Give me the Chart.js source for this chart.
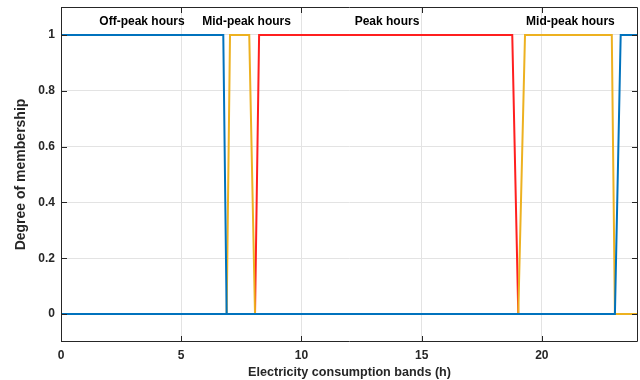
<!DOCTYPE html>
<html>
<head>
<meta charset="utf-8">
<script src="https://cdn.jsdelivr.net/npm/chart.js@4"></script>
<style>
  html, body { margin: 0; padding: 0; background: #fff; }
  #wrap { width: 640px; height: 380px; }
</style>
</head>
<body>
<div id="wrap"><canvas id="chart" width="640" height="380"></canvas></div>
<script>
// membership functions, hours on x
const offPeakHours = [0, 6.75, 6.89, 23.04, 23.28, 24];
const offPeakValues = [1, 1, 0, 0, 1, 1];
const offPeakBaseHours = [0, 23.04];
const offPeakBaseValues = [0, 0];
const midPeakHours = [0, 6.89, 7.03, 7.83, 8.07, 19.02, 19.3, 22.91, 23.04, 24];
const midPeakValues = [0, 0, 1, 1, 0, 0, 1, 1, 0, 0];
const peakHours = [0, 8.07, 8.24, 18.77, 19.02, 24];
const peakValues = [0, 0, 1, 1, 0, 0];

const xTicks = [0, 5, 10, 15, 20];
const yTicks = [0, 0.2, 0.4, 0.6, 0.8, 1];

const bandLabels = ['Off-peak hours', 'Mid-peak hours', 'Peak hours', 'Mid-peak hours'];
const bandLabelHours = [3.37, 7.72, 13.56, 21.19];
const bandLabelLevel = 1.047;

const FONT = '"Liberation Sans", Arial, Helvetica, sans-serif';

const toPoints = (xs, ys) => xs.map((x, i) => ({ x, y: ys[i] }));

// MATLAB style box with inward ticks + band captions
const boxPlugin = {
    id: 'boxPlugin',
    afterDatasetsDraw(chart) {
        const { ctx, chartArea: a, scales: { x, y } } = chart;
        ctx.save();
        ctx.strokeStyle = '#262626';
        ctx.lineWidth = 1;
        ctx.beginPath();
        ctx.rect(a.left + 0.5, a.top + 0.5, a.right - a.left - 1, a.bottom - a.top - 1);
        xTicks.forEach(v => {
            const px = Math.round(x.getPixelForValue(v)) + 0.5;
            ctx.moveTo(px, a.bottom); ctx.lineTo(px, a.bottom - 6);
            ctx.moveTo(px, a.top); ctx.lineTo(px, a.top + 6);
        });
        yTicks.forEach(v => {
            const py = Math.round(y.getPixelForValue(v)) + 0.5;
            ctx.moveTo(a.left, py); ctx.lineTo(a.left + 6, py);
            ctx.moveTo(a.right, py); ctx.lineTo(a.right - 6, py);
        });
        ctx.stroke();

        ctx.fillStyle = '#000';
        ctx.font = 'bold 12px ' + FONT;
        ctx.textAlign = 'center';
        ctx.textBaseline = 'middle';
        bandLabels.forEach((t, i) => {
            ctx.fillText(t, x.getPixelForValue(bandLabelHours[i]), y.getPixelForValue(bandLabelLevel));
        });
        ctx.restore();
    }
};

const line = (data, color) => ({
    data,
    showLine: true,
    borderColor: color,
    backgroundColor: color,
    borderWidth: 2,
    pointRadius: 0,
    tension: 0,
    fill: false
});

new Chart(document.getElementById('chart'), {
    type: 'scatter',
    data: {
        datasets: [
            line(toPoints(offPeakBaseHours, offPeakBaseValues), '#0072bd'),
            line(toPoints(offPeakHours, offPeakValues), '#0072bd'),
            line(toPoints(midPeakHours, midPeakValues), '#edb120'),
            line(toPoints(peakHours, peakValues), '#ff1f1f')
        ]
    },
    options: {
        responsive: false,
        animation: false,
        layout: { padding: { top: 7, right: 2, left: 0, bottom: 0 } },
        plugins: {
            legend: { display: false },
            tooltip: { enabled: false }
        },
        scales: {
            x: {
                type: 'linear',
                min: 0,
                max: 24,
                afterBuildTicks: s => { s.ticks = xTicks.map(v => ({ value: v })); },
                afterFit: s => { s.height = 38; s.paddingLeft = 0; s.paddingRight = 0; },
                grid: { color: '#e3e3e3', drawTicks: false },
                border: { display: false },
                ticks: {
                    color: '#262626',
                    padding: 6,
                    font: { family: FONT, size: 12, weight: 'bold' }
                },
                title: {
                    display: true,
                    text: 'Electricity consumption bands (h)',
                    color: '#262626',
                    padding: { top: 1, bottom: 0 },
                    font: { family: FONT, size: 12.6, weight: 'bold' }
                }
            },
            y: {
                type: 'linear',
                min: -0.1,
                max: 1.1,
                afterBuildTicks: s => { s.ticks = yTicks.map(v => ({ value: v })); },
                afterFit: s => { s.width = 61; s.paddingTop = 0; s.paddingBottom = 0; },
                grid: { color: '#e3e3e3', drawTicks: false },
                border: { display: false },
                ticks: {
                    color: '#262626',
                    padding: 6,
                    callback: v => String(v),
                    font: { family: FONT, size: 12, weight: 'bold' }
                },
                title: {
                    display: true,
                    text: 'Degree of membership',
                    color: '#262626',
                    padding: { top: 13, bottom: 0 },
                    font: { family: FONT, size: 14, weight: 'bold' }
                }
            }
        }
    },
    plugins: [boxPlugin]
});
</script>
</body>
</html>
